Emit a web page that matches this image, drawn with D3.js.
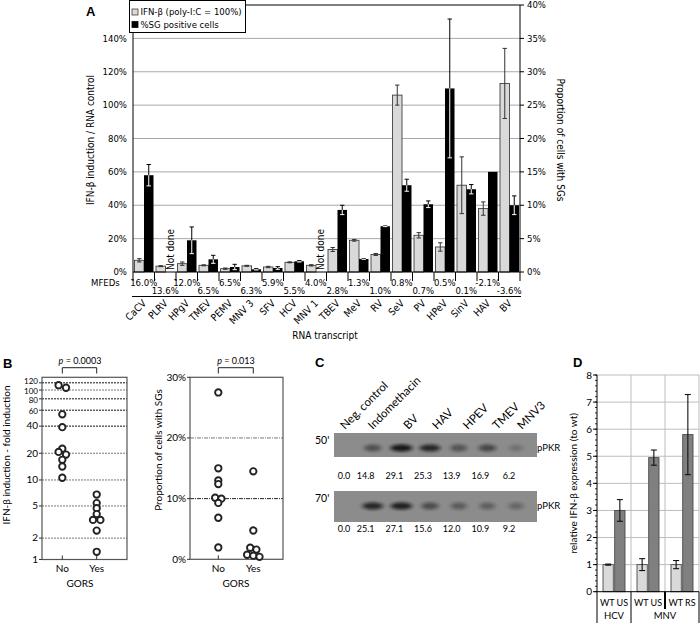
<!DOCTYPE html>
<html><head><meta charset="utf-8">
<script src="https://cdn.jsdelivr.net/npm/d3@7"></script>
<style>
body{margin:0;background:#fff}
svg{display:block}
.fa{font-family:'DejaVu Sans Condensed','DejaVu Sans',sans-serif;font-stretch:condensed}
.fb{font-family:Lato,'Liberation Sans',sans-serif}
</style></head><body>
<svg id="c" width="700" height="623"></svg>
<script>
// ---------- Panel A data ----------
const virusesA = ["CaCV","PLRV","HPgV","TMEV","PEMV","MNV 3","SFV","HCV","MNV 1","TBEV","MeV","RV","SeV","PV","HPeV","SinV","HAV","BV"];
const mfeds = ["16.0%","13.6%","12.0%","6.5%","6.5%","6.3%","5.9%","5.5%","4.0%","2.8%","1.3%","1.0%","0.8%","0.7%","0.5%","0.1%","-2.1%","-3.6%"];
const ifnPct = [7,3.5,5,4,2,3.7,3,5.8,4,13.5,19,10.5,106,22,15,52,38,113];
const ifnErr = [1,0.3,1,0.3,0.4,0.3,0.4,0.3,0.4,1.2,0.5,0.6,6,1.6,2.5,17,4,21];
const sgPct = [14.5,null,4.75,1.9,0.75,0.4,0.6,1.6,null,9.3,1.95,6.85,13,10.15,27.5,12.4,15,10];
const sgErr = [1.6,null,2,0.6,0.4,0.1,0.2,0.1,null,0.7,0.05,0.05,0.9,0.5,10.4,0.7,0,1.4];
const leftTicksA = [0,20,40,60,80,100,120,140];
const rightTicksA = [0,5,10,15,20,25,30,35,40];
const legendA = ["IFN-β (poly-I:C = 100%)","%SG positive cells"];

// ---------- Panel B data ----------
const gorsCats = ["No","Yes"];
const foldNo = [113,106,54,39,22.5,20.7,19.3,16.9,14.2,10.6];
const foldYes = [6.8,5.4,4.7,4.0,3.4,3.4,2.5,1.3];
const foldTicks = [1,2,5,10,20,40,60,80,100,120];
const foldGrid = [2,5,10,20,40,60,80,100,120];
const sgNo = [27.5,15,13,12.4,10.15,10,9.3,6.85,1.95];
const sgYes = [14.5,4.75,1.9,1.6,0.75,0.6,0.4];
const sgTicks = [0,10,20,30];
const pValues = ["0.0003","0.013"];

// ---------- Panel C data ----------
const lanes = ["Neg. control","Indomethacin","BV","HAV","HPEV","TMEV","MNV3"];
const pkr50 = [0.0,14.8,29.1,25.3,13.9,16.9,6.2];
const pkr70 = [0.0,25.1,27.1,15.6,12.0,10.9,9.2];
const blotRows = ["50'","70'"];

// ---------- Panel D data ----------
const dGroups = ["HCV US","MNV US","MNV RS"];
const dLabels = ["WT US","WT US","WT RS"];
const dWt = [1,1,1];
const dWtErr = [0.02,0.22,0.15];
const dMut = [3.0,4.95,5.8];
const dMutErr = [0.4,0.28,1.48];
const dTicks = [0,1,2,3,4,5,6,7,8];

const svg = d3.select("#c");

// ================= PANEL A =================
(function(){
  const g = svg.append("g").attr("class","fa");
  const x0=133, x1=520, y0=272, y1=5;
  const x = d3.scaleBand().domain(virusesA).range([x0,x1]);
  const xi = d3.scaleBand().domain(["ifn","sg"]).range([1.5,20.5]);
  const yL = d3.scaleLinear([0,160],[y0,y1]);
  const yR = d3.scaleLinear([0,40],[y0,y1]);
  g.selectAll(".gl").data(leftTicksA.filter(v=>v>0)).join("line")
    .attr("x1",x0).attr("x2",x1).attr("y1",d=>yL(d)).attr("y2",d=>yL(d))
    .attr("stroke","#a8a8a8").attr("stroke-width",1);
  g.append("line").attr("x1",x0).attr("x2",x1).attr("y1",y1).attr("y2",y1).attr("stroke","#000");
  g.selectAll(".lt").data(leftTicksA).join("text")
    .attr("x",x0-6).attr("y",d=>yL(d)+3.2).attr("text-anchor","end")
    .attr("font-size",9.5).text(d=>d+"%");
  g.selectAll(".rtk").data(rightTicksA).join("line")
    .attr("x1",x1).attr("x2",x1+4).attr("y1",d=>yR(d)).attr("y2",d=>yR(d)).attr("stroke","#000");
  g.selectAll(".rt").data(rightTicksA).join("text")
    .attr("x",x1+7).attr("y",d=>yR(d)+3.2).attr("font-size",9.5).text(d=>d+"%");
  const data = virusesA.map((v,i)=>({v,i,ifn:ifnPct[i],ie:ifnErr[i],sg:sgPct[i],se:sgErr[i]}));
  g.selectAll(".bi").data(data).join("rect")
    .attr("x",d=>x(d.v)+xi("ifn")).attr("width",xi.bandwidth())
    .attr("y",d=>yL(d.ifn)).attr("height",d=>y0-yL(d.ifn))
    .attr("fill","#d9d9d9").attr("stroke","#404040").attr("stroke-width",0.9);
  g.selectAll(".bs").data(data.filter(d=>d.sg!=null)).join("rect")
    .attr("x",d=>x(d.v)+xi("sg")).attr("width",xi.bandwidth())
    .attr("y",d=>yR(d.sg)).attr("height",d=>y0-yR(d.sg))
    .attr("fill","#000");
  data.forEach(d=>{
    const cx = x(d.v)+xi("ifn")+xi.bandwidth()/2;
    const t=yL(d.ifn+d.ie), b=yL(Math.max(0,d.ifn-d.ie));
    g.append("line").attr("x1",cx).attr("x2",cx).attr("y1",t).attr("y2",b).attr("stroke","#333");
    [t,b].forEach(yy=>g.append("line").attr("x1",cx-2.2).attr("x2",cx+2.2).attr("y1",yy).attr("y2",yy).attr("stroke","#333"));
  });
  data.filter(d=>d.sg!=null && d.se>0).forEach(d=>{
    const cx = x(d.v)+xi("sg")+xi.bandwidth()/2;
    const t=yR(d.sg+d.se), m=yR(d.sg), b=yR(Math.max(0,d.sg-d.se));
    g.append("line").attr("x1",cx).attr("x2",cx).attr("y1",t).attr("y2",m).attr("stroke","#000");
    g.append("line").attr("x1",cx-2.2).attr("x2",cx+2.2).attr("y1",t).attr("y2",t).attr("stroke","#000");
    g.append("line").attr("x1",cx).attr("x2",cx).attr("y1",m).attr("y2",b).attr("stroke","#fff");
    g.append("line").attr("x1",cx-2.2).attr("x2",cx+2.2).attr("y1",b).attr("y2",b).attr("stroke","#fff");
  });
  data.filter(d=>d.sg==null).forEach(d=>{
    const cx = x(d.v)+xi("sg")+xi.bandwidth()/2+3.5;
    g.append("text").attr("transform",`translate(${cx},${y0-2}) rotate(-90)`)
      .attr("font-size",10).text("Not done");
  });
  g.append("line").attr("x1",x0).attr("x2",x0).attr("y1",y1).attr("y2",y0).attr("stroke","#000");
  g.append("line").attr("x1",x1).attr("x2",x1).attr("y1",y1).attr("y2",y0).attr("stroke","#000");
  g.append("line").attr("x1",x0).attr("x2",x1).attr("y1",y0).attr("y2",y0).attr("stroke","#000");
  const bounds = virusesA.map(v=>x(v)).concat([x1]);
  g.selectAll(".ct").data(bounds).join("line")
    .attr("x1",d=>d).attr("x2",d=>d).attr("y1",y0).attr("y2",y0+9).attr("stroke","#000");
  g.append("text").attr("x",91).attr("y",286).attr("font-size",9.5).text("MFEDs");
  g.selectAll(".mf").data(mfeds).join("text")
    .attr("x",(d,i)=>x(virusesA[i])+x.bandwidth()/2)
    .attr("y",(d,i)=>i%2===0?285.5:293.8)
    .attr("text-anchor","middle").attr("font-size",9.5).text(d=>d);
  g.append("line").attr("x1",x0-1).attr("x2",x1+1).attr("y1",296.5).attr("y2",296.5).attr("stroke","#000");
  g.selectAll(".xl").data(virusesA).join("text")
    .attr("transform",d=>`translate(${x(d)+x.bandwidth()/2+3},${304}) rotate(-45)`)
    .attr("text-anchor","end").attr("font-size",10).text(d=>d);
  g.append("text").attr("x",325).attr("y",339).attr("text-anchor","middle").attr("font-size",10).text("RNA transcript");
  g.append("text").attr("transform","translate(94,140) rotate(-90)").attr("text-anchor","middle").attr("font-size",10).text("IFN-β induction / RNA control");
  g.append("text").attr("transform","translate(557,140) rotate(90)").attr("text-anchor","middle").attr("font-size",10).text("Proportion of cells with SGs");
  g.append("rect").attr("x",129.5).attr("y",0.5).attr("width",116).attr("height",32).attr("fill","#fff").attr("stroke","#000");
  const lc=[{f:"#d9d9d9",s:"#404040"},{f:"#000",s:"#000"}];
  legendA.forEach((t,i)=>{
    g.append("rect").attr("x",132).attr("y",9+i*12.5).attr("width",6).attr("height",6).attr("fill",lc[i].f).attr("stroke",lc[i].s).attr("stroke-width",0.8);
    g.append("text").attr("x",140.5).attr("y",15+i*12.7).attr("font-size",9.5).text(t);
  });
  g.append("text").attr("x",86).attr("y",16).attr("font-size",13).attr("font-weight","bold")
    .style("font-family","'Liberation Sans',Arial,sans-serif").text("A");
})();

function spread(vals, y, cx, step){
  const pts = vals.map(v=>({v,y:y(v)})).sort((a,b)=>a.y-b.y);
  const rows=[];
  pts.forEach(p=>{const l=rows[rows.length-1]; if(l && Math.abs(p.y-l[0].y)<3) l.push(p); else rows.push([p]);});
  rows.forEach(r=>r.forEach((p,i)=>p.x=cx+(i-(r.length-1)/2)*step));
  return pts;
}

// ================= PANEL B =================
(function(){
  const g = svg.append("g").attr("class","fb");
  const L={x0:42,x1:127,y0:559.5,y1:377.3};
  const y = d3.scaleSymlog().constant(0.4).domain([1,138]).range([L.y0,L.y1]);
  const x = d3.scalePoint().domain(gorsCats).range([62.3,96.7]);
  g.selectAll(".gl").data(foldGrid).join("line")
    .attr("x1",L.x0).attr("x2",L.x1).attr("y1",d=>y(d)).attr("y2",d=>y(d))
    .attr("stroke",d=>[60,80,120,40].includes(d)?"#111":"#777").attr("stroke-dasharray","2,1").attr("stroke-width",1);
  g.append("rect").attr("x",L.x0).attr("y",L.y1).attr("width",L.x1-L.x0).attr("height",L.y0-L.y1)
    .attr("fill","none").attr("stroke","#555").attr("stroke-width",1.2);
  g.selectAll(".tk").data(foldTicks).join("line").attr("x1",L.x0-3).attr("x2",L.x0).attr("y1",d=>y(d)).attr("y2",d=>y(d)).attr("stroke","#333");
  const nudge = {120:-1.5,100:0.6,80:1.5,60:0.8};
  g.selectAll(".tl").data(foldTicks).join("text").attr("x",L.x0-4).attr("y",d=>y(d)+(d>=60?2.9:3.3)+(nudge[d]||0))
    .attr("text-anchor","end").attr("font-size",d=>d>=60?8:10).text(d=>d);
  gorsCats.forEach(c=>{
    g.append("line").attr("x1",x(c)).attr("x2",x(c)).attr("y1",L.y0).attr("y2",L.y0-4).attr("stroke","#333");
    g.append("text").attr("x",x(c)).attr("y",571.5).attr("text-anchor","middle").attr("font-size",10).text(c);
  });
  g.append("text").attr("x",80).attr("y",586.5).attr("text-anchor","middle").attr("font-size",10).text("GORS");
  g.append("text").attr("transform","translate(10,455) rotate(-90)").attr("text-anchor","middle").attr("font-size",10).text("IFN-β induction - fold induction");
  [[foldNo,"No"],[foldYes,"Yes"]].forEach(([vals,c])=>{
    g.selectAll(null).data(spread(vals,y,x(c),7.4)).join("circle")
      .attr("cx",d=>d.x).attr("cy",d=>d.y).attr("r",3.2)
      .attr("fill","#fff").attr("stroke","#222").attr("stroke-width",1.9);
  });
  const brk=(x1,x2,cx,txt)=>{
    g.append("path").attr("d",`M${x1},373.5V367.7H${x2}V373.5`).attr("fill","none").attr("stroke","#222");
    const t=g.append("text").attr("x",cx).attr("y",364).attr("text-anchor","middle").attr("font-size",9);
    t.append("tspan").attr("font-style","italic").text("p");
    t.append("tspan").text(" = "+txt);
  };
  brk(x("No"),x("Yes"),80,pValues[0]);
  const R={x0:190,x1:283,y0:559.3,y1:377.3};
  const yr = d3.scaleLinear([0,30],[R.y0,R.y1]);
  const xr = d3.scalePoint().domain(gorsCats).range([218.3,253.3]);
  g.selectAll(".gr").data(sgTicks.filter(v=>v>0&&v<30)).join("line")
    .attr("x1",R.x0).attr("x2",R.x1).attr("y1",d=>yr(d)).attr("y2",d=>yr(d))
    .attr("stroke",d=>d===10?"#222":"#777").attr("stroke-dasharray","4,1,1,1").attr("stroke-width",1);
  g.append("rect").attr("x",R.x0).attr("y",R.y1).attr("width",R.x1-R.x0).attr("height",R.y0-R.y1)
    .attr("fill","none").attr("stroke","#555").attr("stroke-width",1.2);
  g.selectAll(".tkr").data(sgTicks).join("line").attr("x1",R.x0-3).attr("x2",R.x0).attr("y1",d=>yr(d)).attr("y2",d=>yr(d)).attr("stroke","#333");
  g.selectAll(".tlr").data(sgTicks).join("text").attr("x",R.x0-4).attr("y",d=>yr(d)+3.3)
    .attr("text-anchor","end").attr("font-size",10).text(d=>d+"%");
  gorsCats.forEach(c=>{
    g.append("line").attr("x1",xr(c)).attr("x2",xr(c)).attr("y1",R.y0).attr("y2",R.y0-4).attr("stroke","#333");
    g.append("text").attr("x",xr(c)).attr("y",571.5).attr("text-anchor","middle").attr("font-size",10).text(c);
  });
  g.append("text").attr("x",236).attr("y",586.5).attr("text-anchor","middle").attr("font-size",10).text("GORS");
  g.append("text").attr("transform","translate(162,450) rotate(-90)").attr("text-anchor","middle").attr("font-size",10).text("Proportion of cells with SGs");
  [[sgNo,"No"],[sgYes,"Yes"]].forEach(([vals,c])=>{
    g.selectAll(null).data(spread(vals,yr,xr(c),6.2)).join("circle")
      .attr("cx",d=>d.x).attr("cy",d=>d.y).attr("r",3.2)
      .attr("fill","#fff").attr("stroke","#222").attr("stroke-width",1.9);
  });
  brk(xr("No"),xr("Yes"),236,pValues[1]);
  g.append("text").attr("x",3).attr("y",368).attr("font-size",13).attr("font-weight","bold")
    .style("font-family","'Liberation Sans',Arial,sans-serif").text("B");
})();

// ================= PANEL C =================
(function(){
  const g = svg.append("g").attr("class","fb");
  const defs = svg.append("defs");
  const f = defs.append("filter").attr("id","blur").attr("x","-50%").attr("y","-100%").attr("width","200%").attr("height","300%");
  f.append("feGaussianBlur").attr("stdDeviation","2.2 1.4");
  const x = d3.scalePoint().domain(lanes).range([344,516]);
  const op = d3.scaleLinear([0,30],[0,0.95]);
  const rows=[{lab:blotRows[0],vals:pkr50,y:433,h:24,by:448,ty:478.5},{lab:blotRows[1],vals:pkr70,y:491,h:31,by:506,ty:531.5}];
  rows.forEach(r=>{
    g.append("rect").attr("x",334).attr("y",r.y).attr("width",203).attr("height",r.h).attr("fill","#8c8c8c");
    g.selectAll(null).data(lanes.map((l,i)=>({l,v:r.vals[i]}))).join("ellipse")
      .attr("cx",d=>x(d.l)).attr("cy",r.by).attr("rx",d=>6+d.v*0.18).attr("ry",3.5)
      .attr("fill","#111").attr("opacity",d=>op(d.v)).attr("filter","url(#blur)");
    g.selectAll(null).data(lanes.map((l,i)=>({l,v:r.vals[i]}))).join("text")
      .attr("x",(d,i)=>x(d.l)-(i===0?0:7)).attr("y",r.ty).attr("text-anchor","middle").attr("font-size",9)
      .text(d=>d.v.toFixed(1));
    g.append("text").attr("x",537).attr("y",r.by+3).attr("font-size",9.5).text("pPKR");
    g.append("text").attr("x",315).attr("y",r.y+11).attr("font-size",10.5).text(r.lab);
  });
  g.selectAll(".ll").data(lanes).join("text")
    .attr("transform",(d,i)=>`translate(${x(d)+[1,0,7,7,9,10,6][i]},430) rotate(-45)`)
    .attr("font-size",11.5).text(d=>d);
  g.append("text").attr("x",315).attr("y",367).attr("font-size",13).attr("font-weight","bold")
    .style("font-family","'Liberation Sans',Arial,sans-serif").text("C");
})();

// ================= PANEL D =================
(function(){
  const g = svg.append("g").attr("class","fb");
  const x0=597,x1=699,y0=591.7,y1=375;
  const y = d3.scaleLinear([0,8],[y0,y1]);
  const x = d3.scaleBand().domain(dGroups).range([x0,x1]);
  const xi = d3.scaleBand().domain(["wt","mut"]).range([x.bandwidth()/2-11,x.bandwidth()/2+11]).paddingInner(0.12);
  g.selectAll(".hg").data(dTicks.filter(v=>v>0)).join("line")
    .attr("x1",x0).attr("x2",x1).attr("y1",d=>y(d)).attr("y2",d=>y(d)).attr("stroke","#bdbdbd");
  g.selectAll(".vg").data(dGroups).join("line")
    .attr("x1",d=>x(d)+x.bandwidth()).attr("x2",d=>x(d)+x.bandwidth()).attr("y1",y1).attr("y2",y0).attr("stroke","#bdbdbd");
  const data = dGroups.map((gr,i)=>({gr,wt:dWt[i],we:dWtErr[i],m:dMut[i],me:dMutErr[i],lab:dLabels[i]}));
  data.forEach(d=>{
    const bx = x(d.gr);
    [["wt",d.wt,d.we,"#d9d9d9"],["mut",d.m,d.me,"#808080"]].forEach(([k,v,e,c])=>{
      g.append("rect").attr("x",bx+xi(k)).attr("width",xi.bandwidth()).attr("y",y(v)).attr("height",y0-y(v))
        .attr("fill",c).attr("stroke","#4a4a4a").attr("stroke-width",0.9);
      const cx=bx+xi(k)+xi.bandwidth()/2;
      g.append("line").attr("x1",cx).attr("x2",cx).attr("y1",y(v+e)).attr("y2",y(v-e)).attr("stroke","#111").attr("stroke-width",1.1);
      [v+e,v-e].forEach(vv=>g.append("line").attr("x1",cx-3).attr("x2",cx+3).attr("y1",y(vv)).attr("y2",y(vv)).attr("stroke","#111").attr("stroke-width",1.1));
    });
    g.append("text").attr("x",bx+x.bandwidth()/2).attr("y",606).attr("text-anchor","middle").attr("font-size",9).text(d.lab);
  });
  g.append("line").attr("x1",x0).attr("x2",x0).attr("y1",y1).attr("y2",y0).attr("stroke","#000");
  g.append("line").attr("x1",x0).attr("x2",x1).attr("y1",y0).attr("y2",y0).attr("stroke","#000");
  g.selectAll(".mt").data(d3.range(0,8.01,0.2)).join("line")
    .attr("x1",x0-2).attr("x2",x0).attr("y1",d=>y(d)).attr("y2",d=>y(d)).attr("stroke","#000").attr("stroke-width",0.8);
  g.selectAll(".Mt").data(dTicks).join("line")
    .attr("x1",x0-4).attr("x2",x0).attr("y1",d=>y(d)).attr("y2",d=>y(d)).attr("stroke","#000");
  g.selectAll(".tl").data(dTicks).join("text").attr("x",x0-5).attr("y",d=>y(d)+3.5).attr("text-anchor","end").attr("font-size",10).text(d=>d);
  [x0,x(dGroups[1]),x1].forEach(xx=>g.append("line").attr("x1",xx).attr("x2",xx).attr("y1",y0).attr("y2",623).attr("stroke","#000"));
  g.append("line").attr("x1",x(dGroups[2])).attr("x2",x(dGroups[2])).attr("y1",y0).attr("y2",609).attr("stroke","#000").attr("stroke-width",2);
  g.append("text").attr("x",x(dGroups[0])+x.bandwidth()/2).attr("y",619).attr("text-anchor","middle").attr("font-size",9.5).text("HCV");
  g.append("text").attr("x",x(dGroups[1])+x.bandwidth()).attr("y",619).attr("text-anchor","middle").attr("font-size",9.5).text("MNV");
  g.append("text").attr("transform",`translate(577,${(y0+y1)/2}) rotate(-90)`).attr("text-anchor","middle").attr("font-size",10).text("relative IFN-β expression (to wt)");
  g.append("text").attr("x",573).attr("y",367).attr("font-size",13).attr("font-weight","bold")
    .style("font-family","'Liberation Sans',Arial,sans-serif").text("D");
})();
</script>
</body></html>
